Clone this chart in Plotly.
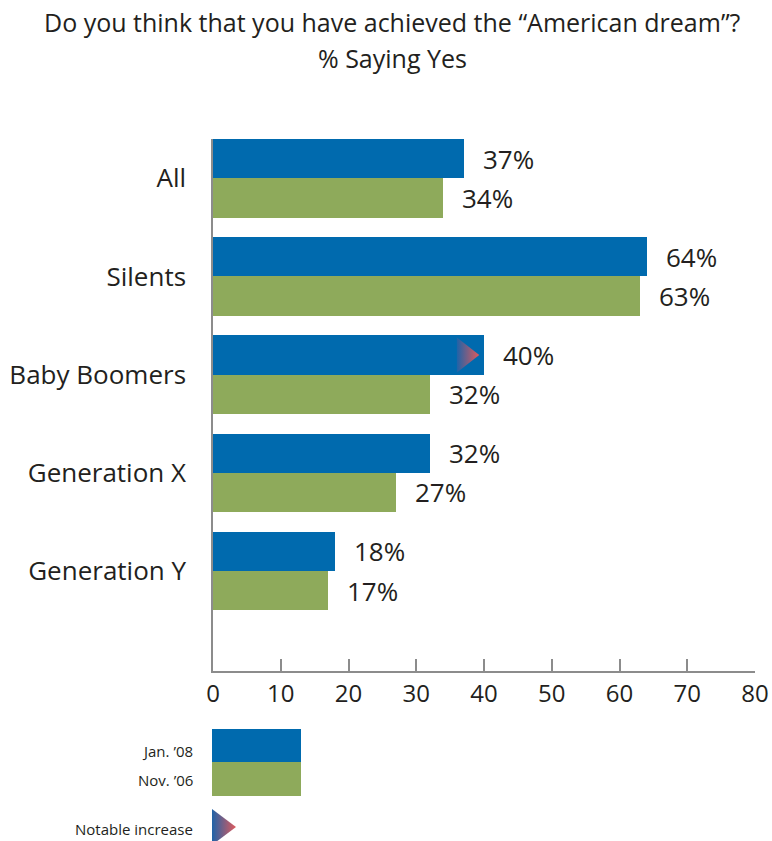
import plotly.graph_objects as go

# Survey results: share answering "yes"
categories = ["All", "Silents", "Baby Boomers", "Generation X", "Generation Y"]
jan_08 = [37, 64, 40, 32, 18]
nov_06 = [34, 63, 32, 27, 17]
notable_increase = [False, False, True, False, False]
x_ticks = [0, 10, 20, 30, 40, 50, 60, 70, 80]

BLUE = "#006aae"
GREEN = "#8eaa5b"
AXIS = "#8c8c8c"
TEXT = "#231f20"
FONT = "Open Sans"
ARROW_SCALE = [[0, "#1f63a8"], [1, "#e05a5c"]]

W, H = 772, 841
BAR_W = 0.4

idx = list(range(len(categories)))
y_jan = [i - BAR_W / 2 for i in idx]
y_nov = [i + BAR_W / 2 for i in idx]

fig = go.Figure()
fig.add_trace(go.Bar(x=jan_08, y=y_jan, orientation="h", width=BAR_W,
                     marker=dict(color=BLUE, line=dict(width=0)),
                     name="Jan. '08", showlegend=False, hoverinfo="x+name"))
fig.add_trace(go.Bar(x=nov_06, y=y_nov, orientation="h", width=BAR_W,
                     marker=dict(color=GREEN, line=dict(width=0)),
                     name="Nov. '06", showlegend=False, hoverinfo="x+name"))

# Gradient arrow inside the bar end for groups with a notable increase
for v, yc, flag in zip(jan_08, y_jan, notable_increase):
    if not flag:
        continue
    tip, base, half = v - 0.7, v - 4.0, 0.178
    fig.add_trace(go.Scatter(
        x=[base, tip, base, base], y=[yc - half, yc, yc + half, yc - half],
        mode="lines", line=dict(width=0), fill="toself",
        fillgradient=dict(type="horizontal", colorscale=ARROW_SCALE),
        showlegend=False, hoverinfo="skip"))

# Value labels
annotations = []
for vals, ys in ((jan_08, y_jan), (nov_06, y_nov)):
    for v, yc in zip(vals, ys):
        annotations.append(dict(
            x=v, y=yc, xref="x", yref="y", text=f"{v}%", showarrow=False,
            xanchor="left", yanchor="middle", xshift=17,
            font=dict(family=FONT, size=26, color=TEXT)))

# Title
annotations += [
    dict(x=392 / W, y=1 - 22 / H, xref="paper", yref="paper",
         text="Do you think that you have achieved the \u201cAmerican dream\u201d?",
         showarrow=False, xanchor="center", yanchor="middle",
         font=dict(family=FONT, size=25, color=TEXT)),
    dict(x=392 / W, y=1 - 58 / H, xref="paper", yref="paper",
         text="% Saying Yes", showarrow=False, xanchor="center", yanchor="middle",
         font=dict(family=FONT, size=25, color=TEXT)),
]

# Key below the chart (drawn on a hidden pixel-scaled axis pair)
key_font = dict(family=FONT, size=15, color=TEXT)
shapes = [
    dict(type="rect", xref="x2", yref="y2", x0=212, x1=301, y0=729, y1=762,
         fillcolor=BLUE, line=dict(width=0)),
    dict(type="rect", xref="x2", yref="y2", x0=212, x1=301, y0=762, y1=796,
         fillcolor=GREEN, line=dict(width=0)),
]
for label, yy in (("Jan. \u201908", 751), ("Nov. \u201906", 780), ("Notable increase", 829)):
    annotations.append(dict(x=195, y=yy, xref="x2", yref="y2", text=label,
                            showarrow=False, xanchor="right", yanchor="middle",
                            font=key_font))
fig.add_trace(go.Scatter(
    x=[212, 236, 212, 212], y=[809, 827, 845, 809], xaxis="x2", yaxis="y2",
    mode="lines", line=dict(width=0), fill="toself",
    fillgradient=dict(type="horizontal", colorscale=ARROW_SCALE),
    showlegend=False, hoverinfo="skip"))

fig.update_layout(
    width=W, height=H,
    margin=dict(l=0, r=0, t=0, b=0, autoexpand=False),
    paper_bgcolor="white", plot_bgcolor="white",
    bargap=0, barmode="overlay",
    showlegend=False,
    font=dict(family=FONT, color=TEXT),
    xaxis=dict(domain=[213 / W, 755 / W], range=[0, 80], tickvals=x_ticks,
               ticks="inside", ticklen=12, tickwidth=1.5, tickcolor=AXIS,
               showline=True, linecolor=AXIS, linewidth=1.5,
               showgrid=False, zeroline=False, automargin=False,
               tickfont=dict(family=FONT, size=24, color=TEXT), fixedrange=True),
    yaxis=dict(domain=[(H - 671) / H, (H - 139) / H], range=[5.018, -0.4],
               tickvals=idx, ticktext=categories, ticks="",
               ticklabelstandoff=20, automargin=False,
               showline=True, linecolor=AXIS, linewidth=1.5,
               showgrid=False, zeroline=False,
               tickfont=dict(family=FONT, size=26, color=TEXT), fixedrange=True),
    xaxis2=dict(domain=[0, 1], range=[0, W], visible=False, anchor="y2",
                fixedrange=True, automargin=False),
    yaxis2=dict(domain=[0, 141 / H], range=[841, 700], visible=False,
                anchor="x2", fixedrange=True, automargin=False),
    annotations=annotations,
    shapes=shapes,
)

fig.write_html("out.html")
